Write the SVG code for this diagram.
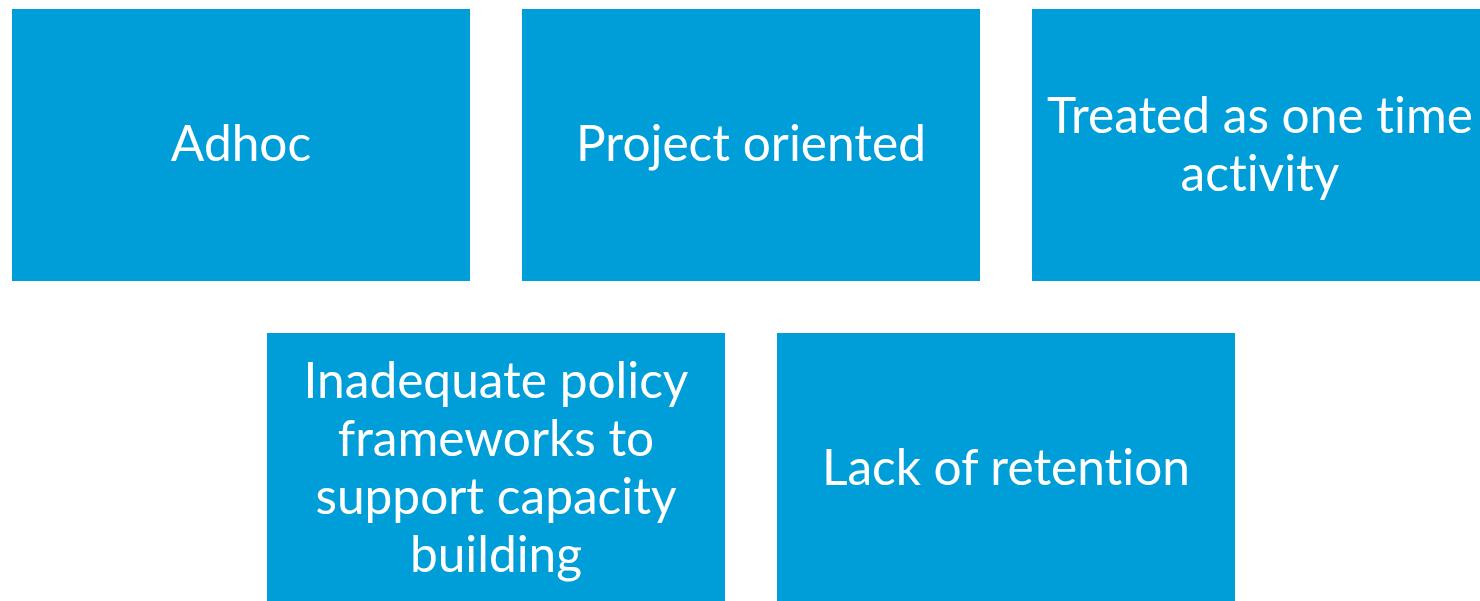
<svg xmlns="http://www.w3.org/2000/svg" width="1480" height="601" viewBox="0 0 1480 601">
<style>
.box{fill:#009ED8;}
.t{fill:#FFFFFF;font-family:Lato,"Open Sans","Liberation Sans",sans-serif;font-size:49.6px;text-anchor:middle;font-variant-ligatures:none;font-feature-settings:"liga" 0,"dlig" 0;}
</style>
<rect width="1480" height="601" fill="#FFFFFF"/>
<g id="node-adhoc"><rect class="box" x="12" y="9" width="458" height="272"/><text class="t" x="241" y="161">Adhoc</text></g>
<g id="node-project"><rect class="box" x="522" y="9" width="458" height="272"/><text class="t" x="751" y="161">Project oriented</text></g>
<g id="node-onetime"><rect class="box" x="1032" y="9" width="458" height="272"/><text class="t" x="1260" y="133">Treated as one time</text><text class="t" x="1260" y="191">activity</text></g>
<g id="node-policy"><rect class="box" x="267" y="333" width="458" height="272"/><text class="t" x="496" y="398">Inadequate policy</text><text class="t" x="496" y="456">frameworks to</text><text class="t" x="496" y="514">support capacity</text><text class="t" x="496" y="572">building</text></g>
<g id="node-retention"><rect class="box" x="777" y="333" width="458" height="272"/><text class="t" x="1006" y="485">Lack of retention</text></g>
<g id="connectors"></g>
</svg>
